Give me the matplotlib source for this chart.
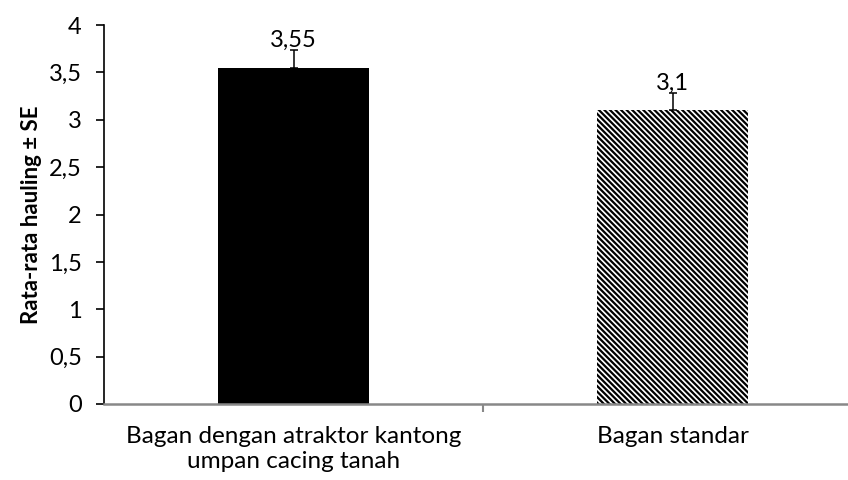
import numpy as np
import matplotlib.pyplot as plt
from matplotlib.ticker import FuncFormatter

categories = ["Bagan dengan atraktor kantong\numpan cacing tanah", "Bagan standar"]
means = [3.55, 3.1]
se = [0.19, 0.18]
labels = ["3,55", "3,1"]

plt.rcParams['font.family'] = ['Lato', 'DejaVu Sans']
plt.rcParams['hatch.linewidth'] = 1.6

fig = plt.figure(figsize=(8.48, 4.8), dpi=100)
ax = fig.add_axes([104 / 848, 1 - 404 / 480, 758 / 848, 379 / 480])

x = np.arange(len(categories))
bars = ax.bar(x, means, width=0.4, color=['black', 'white'], edgecolor='black', linewidth=0)
bars[1].set_hatch('\\\\\\\\\\\\')
ax.errorbar(x, means, yerr=[[0, 0], se], fmt='none', ecolor='black', elinewidth=1.1, capsize=3, capthick=1.1)

for xi, m, lab in zip(x, means, labels):
    ax.annotate(lab, (xi, m), xytext=(0, 12), textcoords='offset points',
                ha='center', va='bottom', fontsize=17)

ax.set_xlim(-0.5, 1.5)
ax.set_ylim(0, 4)
ax.set_yticks(np.arange(0, 4.01, 0.5))
ax.yaxis.set_major_formatter(FuncFormatter(lambda v, p: ('%g' % v).replace('.', ',')))
ax.set_xticks([0.5])
ax.set_xticklabels([''])
ax.set_xticks(x, minor=True)
ax.set_xticklabels(categories, minor=True, fontsize=17.5, linespacing=1.25)
ax.tick_params(axis='x', which='minor', length=0, pad=16)
ax.tick_params(axis='x', which='major', length=6, color='#888888', width=1.5)
ax.tick_params(axis='y', labelsize=17, length=6, width=1.2, direction='out', pad=10)

ax.spines['top'].set_visible(False)
ax.spines['right'].set_visible(False)
ax.spines['bottom'].set_color('#888888')
ax.spines['bottom'].set_linewidth(1.8)
ax.spines['left'].set_linewidth(1.2)
ax.set_ylabel("Rata-rata hauling ± SE", fontsize=16, fontweight='bold', labelpad=5)

fig.savefig("out.png", dpi=100)
